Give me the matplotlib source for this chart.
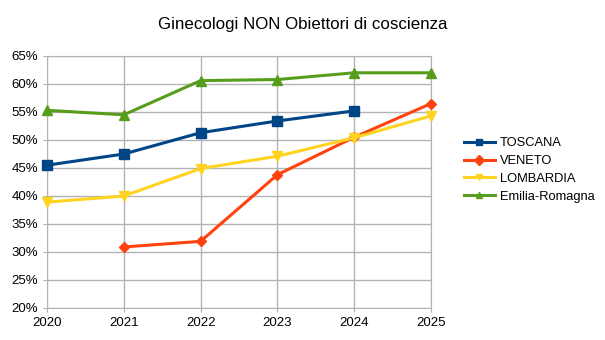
import matplotlib
matplotlib.use("Agg")
import matplotlib.pyplot as plt
from matplotlib.ticker import FuncFormatter

plt.rcParams['font.family'] = ['Liberation Sans', 'DejaVu Sans']

years = [2020, 2021, 2022, 2023, 2024, 2025]
toscana = [45.5, 47.5, 51.3, 53.4, 55.2, None]
veneto = [None, 30.9, 31.9, 43.8, 50.5, 56.5]
lombardia = [38.9, 40.0, 44.9, 47.1, 50.4, 54.3]
emilia = [55.3, 54.5, 60.6, 60.8, 62.0, 62.0]

series = [
    ("TOSCANA", toscana, "#004586", "s", 7.5),
    ("VENETO", veneto, "#ff420e", "D", 5.5),
    ("LOMBARDIA", lombardia, "#ffd320", "v", 7.5),
    ("Emilia-Romagna", emilia, "#579d1c", "^", 7.5),
]

fig = plt.figure(figsize=(6.05, 3.4), dpi=100)
ax = fig.add_axes([47/605, 1-308/340, (431-47)/605, (308-56)/340])

for name, vals, col, mk, ms in series:
    xs = [y for y, v in zip(years, vals) if v is not None]
    ys = [v for v in vals if v is not None]
    ax.plot(xs, ys, color=col, lw=2.2, marker=mk, ms=ms, label=name, clip_on=False, zorder=3)

ax.set_xlim(2020, 2025)
ax.set_ylim(20, 65)
ax.set_xticks(years)
ax.set_yticks(range(20, 66, 5))
ax.yaxis.set_major_formatter(FuncFormatter(lambda v, p: f"{int(v)}%"))
ax.grid(True, color="#b3b3b3", lw=1)
ax.set_axisbelow(True)
for s in ax.spines.values():
    s.set_color("#b3b3b3")
ax.tick_params(colors="#b3b3b3", labelcolor="#000000", labelsize=9.5, length=3)

fig.text(0.5, 1-25/340, "Ginecologi NON Obiettori di coscienza", ha="center", va="center", fontsize=12.2)

leg = fig.legend(loc="center left", bbox_to_anchor=(452/605, 1-170/340), frameon=False,
                 fontsize=9.3, handlelength=2.4, labelspacing=0.45, handletextpad=0.4)
for h in leg.legend_handles:
    h.set_markersize(5)

fig.savefig("out.png", dpi=100)
